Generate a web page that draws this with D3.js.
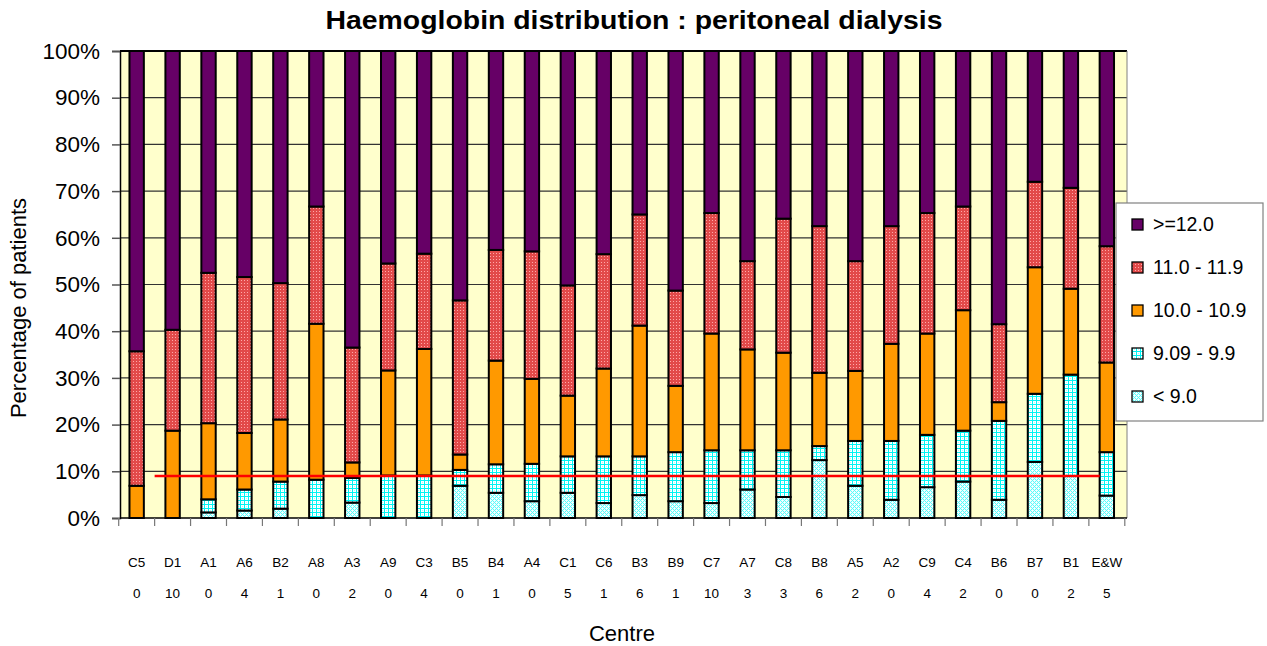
<!DOCTYPE html>
<html>
<head>
<meta charset="utf-8">
<script src="https://cdn.jsdelivr.net/npm/d3@7"></script>
<style>
  html, body { margin: 0; padding: 0; background: #ffffff; }
  svg { display: block; font-family: "Liberation Sans", Arial, sans-serif; }
</style>
</head>
<body>
<svg id="chart" width="1267" height="646"></svg>
<script>
// ---------- data ----------
const centres = ["C5","D1","A1","A6","B2","A8","A3","A9","C3","B5","B4","A4","C1","C6","B3","B9","C7","A7","C8","B8","A5","A2","C9","C4","B6","B7","B1","E&W"];
const counts  = ["0","10","0","4","1","0","2","0","4","0","1","0","5","1","6","1","10","3","3","6","2","0","4","2","0","0","2","5"];

const below9   = [0,0,1.2,1.6,2.0,0,3.3,0,0,6.9,5.4,3.6,5.4,3.2,4.9,3.6,3.2,6.1,4.5,12.4,6.9,3.9,6.6,7.8,3.9,12.0,9.0,4.8];
const hb909    = [0,0,2.8,4.5,5.8,8.2,5.3,9.1,9.1,3.4,6.1,8.0,7.8,10.0,8.3,10.5,11.3,8.4,10.0,3.0,9.6,12.6,11.2,10.9,16.9,14.6,21.7,9.3];
const hb10     = [6.9,18.7,16.3,12.1,13.3,33.4,3.3,22.5,27.1,3.3,22.2,18.2,13.0,18.8,28.0,14.2,25.0,21.6,20.9,15.7,15.0,20.8,21.7,25.8,4.0,27.1,18.4,19.2];
const hb11     = [28.8,21.6,32.2,33.4,29.2,25.1,24.6,22.9,20.4,33.0,23.7,27.3,23.6,24.5,23.8,20.4,25.8,18.9,28.7,31.4,23.5,25.2,25.8,22.2,16.7,18.3,21.6,24.9];
const hb12     = [64.3,59.7,47.5,48.4,49.7,33.3,63.5,45.5,43.4,53.4,42.6,42.9,50.2,43.5,35.0,51.3,34.7,45.0,35.9,37.5,45.0,37.5,34.7,33.3,58.5,28.0,29.3,41.8];

const seriesKeys   = ["lt9","s909","s10","s11","s12"];
const seriesLabels = ["< 9.0","9.09 - 9.9","10.0 - 10.9","11.0 - 11.9",">=12.0"];
const yTicks = [0,10,20,30,40,50,60,70,80,90,100];
const targetLevel = 9;

const rows = centres.map((c, i) => ({
  centre: c, lt9: below9[i], s909: hb909[i], s10: hb10[i], s11: hb11[i], s12: hb12[i]
}));

// ---------- layout ----------
const svg = d3.select("#chart");
const plot = { left: 120, right: 1127, top: 51, bottom: 518 };

const x = d3.scaleBand().domain(centres).range([118.7, 1124.8]).paddingInner(0.6).paddingOuter(0.3);
const y = d3.scaleLinear().domain([0, 100]).range([plot.bottom, plot.top]);

// ---------- patterns ----------
const defs = svg.append("defs");
function px(p, xx, yy, c) { p.append("rect").attr("x", xx).attr("y", yy).attr("width", 1).attr("height", 1).attr("fill", c); }
// red dotted (11.0 - 11.9)
const pRed = defs.append("pattern").attr("id","pRed").attr("patternUnits","userSpaceOnUse").attr("width",3).attr("height",3);
pRed.append("rect").attr("width",3).attr("height",3).attr("fill","#e24a4a");
px(pRed, 1, 1, "#ffa8a8");
// cyan grid (9.09 - 9.9)
const pGrid = defs.append("pattern").attr("id","pGrid").attr("patternUnits","userSpaceOnUse").attr("width",4).attr("height",4);
pGrid.append("rect").attr("width",4).attr("height",4).attr("fill","#00f4f4");
pGrid.append("rect").attr("x",1).attr("y",1).attr("width",3).attr("height",3).attr("fill","#ffffff");
px(pGrid, 2, 2, "#a8ffff");
// cyan crosses (< 9.0)
const pCross = defs.append("pattern").attr("id","pCross").attr("patternUnits","userSpaceOnUse").attr("width",4).attr("height",4);
pCross.append("rect").attr("width",4).attr("height",4).attr("fill","#e6ffff");
[[0,0],[1,1],[2,2],[3,3],[3,1],[1,3]].forEach(([a,b]) => px(pCross, a, b, "#5cfafa"));
px(pCross, 2, 0, "#ffffff"); px(pCross, 0, 2, "#ffffff");

const fills = { lt9: "url(#pCross)", s909: "url(#pGrid)", s10: "#ff9900", s11: "url(#pRed)", s12: "#660066" };

// ---------- plot background & grid ----------
svg.append("rect").attr("x", plot.left).attr("y", plot.top)
  .attr("width", plot.right - plot.left).attr("height", plot.bottom - plot.top)
  .attr("fill", "#ffffcc");

svg.append("g").selectAll("line").data(yTicks.filter(d => d > 0)).join("line")
  .attr("x1", plot.left).attr("x2", plot.right)
  .attr("y1", d => y(d)).attr("y2", d => y(d))
  .attr("stroke", d => d === 100 ? "#000" : "#333")
  .attr("stroke-width", d => d === 100 ? 2 : 1.2);

// right plot border
svg.append("line").attr("x1", plot.right).attr("x2", plot.right)
  .attr("y1", plot.top).attr("y2", plot.bottom)
  .attr("stroke", "#808080").attr("stroke-width", 1);

// ---------- bars ----------
const stack = d3.stack().keys(seriesKeys);
const stacked = stack(rows);

const gBars = svg.append("g");
stacked.forEach(layer => {
  gBars.append("g").selectAll("rect")
    .data(layer.filter(d => d[1] - d[0] > 0))
    .join("rect")
    .attr("x", d => x(d.data.centre))
    .attr("width", x.bandwidth())
    .attr("y", d => y(d[1]))
    .attr("height", d => y(d[0]) - y(d[1]))
    .attr("fill", fills[layer.key])
    .attr("stroke", "#000")
    .attr("stroke-width", 2);
});

// ---------- target line ----------
svg.append("line")
  .attr("x1", x(centres[1]) - x.step() * 0.3)
  .attr("x2", x(centres[centres.length - 1]))
  .attr("y1", y(targetLevel)).attr("y2", y(targetLevel))
  .attr("stroke", "#ff0000").attr("stroke-width", 2.5);

// ---------- axes ----------
const yAxis = d3.axisLeft(y).tickValues(yTicks).tickFormat(d => d + "%").tickSize(8).tickPadding(12);
const gy = svg.append("g").attr("transform", `translate(${plot.left},0)`).call(yAxis);
gy.select(".domain").attr("stroke", "#000").attr("stroke-width", 1.5);
gy.selectAll(".tick line").attr("stroke", "#555").attr("stroke-width", 1.5);
gy.selectAll(".tick text").attr("font-size", 22.5).attr("fill", "#000")
  .attr("font-family", "Liberation Sans, Arial, sans-serif");

// baseline
svg.append("line").attr("x1", plot.left).attr("x2", plot.right)
  .attr("y1", plot.bottom).attr("y2", plot.bottom)
  .attr("stroke", "#000").attr("stroke-width", 1.5);

// category boundary ticks
const boundaries = centres.map(c => x(c) - x.step() * 0.3).concat([x(centres[centres.length-1]) + x.bandwidth() + x.step()*0.3]);
svg.append("g").selectAll("line").data(boundaries).join("line")
  .attr("x1", d => d).attr("x2", d => d)
  .attr("y1", plot.bottom).attr("y2", plot.bottom + 8)
  .attr("stroke", "#777").attr("stroke-width", 1.2);

// category labels
const xAxis = d3.axisBottom(x).tickSize(0).tickPadding(0);
const gx = svg.append("g").attr("transform", `translate(0,${plot.bottom + 39})`).call(xAxis);
gx.select(".domain").remove();
gx.selectAll(".tick text").attr("font-size", 13.5).attr("fill", "#000")
  .attr("font-family", "Liberation Sans, Arial, sans-serif");

// count labels
svg.append("g").selectAll("text").data(centres).join("text")
  .attr("x", d => x(d) + x.bandwidth() / 2)
  .attr("y", 598)
  .attr("text-anchor", "middle")
  .attr("font-size", 13.5).attr("fill", "#000")
  .text((d, i) => counts[i]);

// axis titles
svg.append("text").attr("x", 622).attr("y", 641).attr("text-anchor", "middle")
  .attr("font-size", 22).attr("fill", "#000").text("Centre");
svg.append("text").attr("transform", "translate(26,308) rotate(-90)").attr("text-anchor", "middle")
  .attr("font-size", 22).attr("fill", "#000").text("Percentage of patients");

// title
svg.append("text").attr("x", 634).attr("y", 29).attr("text-anchor", "middle")
  .attr("font-size", 25).attr("font-weight", "bold").attr("fill", "#000")
  .attr("textLength", 617).attr("lengthAdjust", "spacingAndGlyphs")
  .text("Haemoglobin distribution : peritoneal dialysis");

// ---------- legend ----------
const lg = svg.append("g").attr("transform", "translate(1116,203)");
lg.append("rect").attr("width", 147).attr("height", 218)
  .attr("fill", "#ffffff").attr("stroke", "#808080").attr("stroke-width", 1.2);
const legendOrder = seriesKeys.slice().reverse();
legendOrder.forEach((k, i) => {
  const yy = 21 + i * 43;
  lg.append("rect").attr("x", 16).attr("y", yy - 5).attr("width", 11).attr("height", 11)
    .attr("fill", fills[k]).attr("stroke", "#000").attr("stroke-width", 1.3);
  lg.append("text").attr("x", 37).attr("y", yy + 7)
    .attr("font-size", 19.5).attr("fill", "#000")
    .text(seriesLabels[seriesKeys.indexOf(k)]);
});
</script>
</body>
</html>
